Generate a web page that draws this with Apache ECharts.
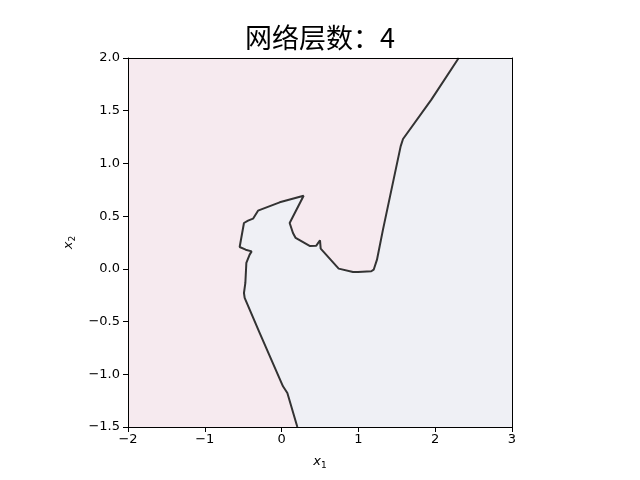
<!DOCTYPE html>
<html>
<head>
<meta charset="utf-8">
<script src="https://cdn.jsdelivr.net/npm/echarts@6/dist/echarts.min.js"></script>
<style>html,body{margin:0;padding:0;background:#fff}#c{width:640px;height:480px}</style>
</head>
<body>
<div id="c"></div>
<script>
const titleText = '网络层数：4';
const xTicks = [-2, -1, 0, 1, 2, 3];
const yTicks = [-1.5, -1.0, -0.5, 0.0, 0.5, 1.0, 1.5, 2.0];
// decision boundary (x1, x2), from top edge to bottom edge
const boundaryX = [2.306, 1.950, 1.581, 1.550, 1.320, 1.242, 1.199, 1.168, 0.995, 0.982, 0.930, 0.743, 0.509, 0.500, 0.474, 0.452, 0.365, 0.183, 0.148, 0.105, 0.287, -0.025, -0.307, -0.372, -0.437, -0.490, -0.546, -0.468, -0.390, -0.416, -0.459, -0.472, -0.490, -0.481, -0.286, 0.018, 0.075, 0.205];
const boundaryY = [2.000, 1.605, 1.232, 1.162, 0.372, 0.087, -0.008, -0.023, -0.030, -0.039, -0.030, 0.002, 0.192, 0.271, 0.271, 0.220, 0.217, 0.293, 0.340, 0.435, 0.694, 0.631, 0.552, 0.476, 0.457, 0.435, 0.207, 0.182, 0.166, 0.135, 0.056, -0.134, -0.229, -0.276, -0.608, -1.114, -1.177, -1.500];
// class-1 region closes along the right side of the plot
const regionCornerX = [3, 3];
const regionCornerY = [-1.5, 2];

const boundary = boundaryX.map((x, i) => [x, boundaryY[i]]);
const region = boundary.concat(regionCornerX.map((x, i) => [x, regionCornerY[i]]));

const fmt = v => String(v).replace('-', '\u2212');
const fmtY = v => v.toFixed(1).replace('-', '\u2212');
const font = 'DejaVu Sans';

const chart = echarts.init(document.getElementById('c'), null, {renderer: 'canvas'});
const axisCommon = {
  type: 'value',
  splitLine: {show: false},
  z: 10
};
chart.setOption({
  animation: false,
  backgroundColor: '#fff',
  title: {
    text: titleText,
    left: 315, top: 19, textAlign: 'center',
    textStyle: {fontFamily: '"Noto Sans CJK SC", ' + font, fontSize: 27, fontWeight: 'normal', color: '#000'}
  },
  grid: {left: 128, top: 58, width: 384, height: 369, show: true, backgroundColor: '#f6eaef', borderWidth: 0},
  xAxis: [
    Object.assign({}, axisCommon, {
      position: 'bottom', min: -2, max: 3, interval: 1,
      axisLine: {show: true, onZero: false, lineStyle: {color: '#000', width: 1}},
      axisTick: {show: true, length: 5, lineStyle: {color: '#000'}},
      axisLabel: {formatter: fmt, fontFamily: font, fontSize: 13, color: '#000', margin: 6},
      name: '{i|x}{s|1}', nameLocation: 'middle', nameGap: 26,
      nameTextStyle: {rich: {
        i: {fontFamily: font, fontStyle: 'italic', fontSize: 13, color: '#000'},
        s: {fontFamily: font, fontSize: 9, color: '#000', padding: [8, 0, 0, 0]}
      }}
    }),
    Object.assign({}, axisCommon, {
      position: 'top', min: -2, max: 3, interval: 1,
      axisLine: {show: true, onZero: false, lineStyle: {color: '#000', width: 1}},
      axisTick: {show: false}, axisLabel: {show: false}
    })
  ],
  yAxis: [
    Object.assign({}, axisCommon, {
      position: 'left', min: -1.5, max: 2, interval: 0.5,
      axisLine: {show: true, onZero: false, lineStyle: {color: '#000', width: 1}},
      axisTick: {show: true, length: 5, lineStyle: {color: '#000'}},
      axisLabel: {formatter: fmtY, fontFamily: font, fontSize: 13, color: '#000', margin: 8},
      name: '{i|x}{s|2}', nameLocation: 'middle', nameGap: 50, nameRotate: 90,
      nameTextStyle: {rich: {
        i: {fontFamily: font, fontStyle: 'italic', fontSize: 13, color: '#000'},
        s: {fontFamily: font, fontSize: 9, color: '#000', padding: [8, 0, 0, 0]}
      }}
    }),
    Object.assign({}, axisCommon, {
      position: 'right', min: -1.5, max: 2, interval: 0.5,
      axisLine: {show: true, onZero: false, lineStyle: {color: '#000', width: 1}},
      axisTick: {show: false}, axisLabel: {show: false}
    })
  ],
  series: [
    {
      type: 'custom',
      xAxisIndex: 0, yAxisIndex: 0,
      clip: true,
      data: [0],
      renderItem: function (params, api) {
        const pts = region.map(p => api.coord(p));
        return {type: 'polygon', shape: {points: pts}, style: {fill: '#eff0f5', stroke: null}};
      },
      z: 2
    },
    {
      type: 'line',
      xAxisIndex: 0, yAxisIndex: 0,
      data: boundary,
      showSymbol: false,
      symbol: 'none',
      clip: true,
      lineStyle: {color: '#333333', width: 2},
      z: 3
    }
  ]
});
</script>
</body>
</html>
